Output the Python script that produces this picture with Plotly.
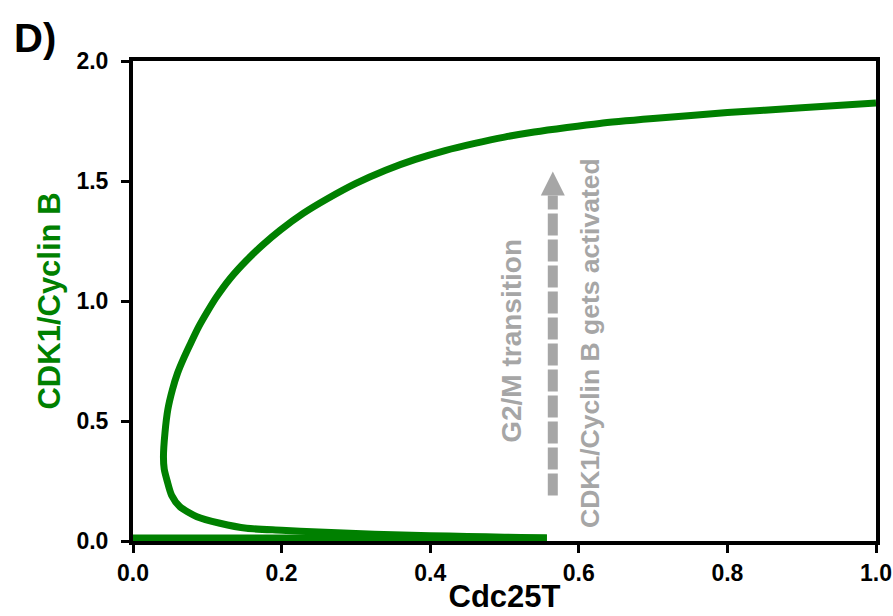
import plotly.graph_objects as go

# Data: steady-state curve of CDK1/Cyclin B vs Cdc25T
# lower (stable, inactive) branch
low_x = [0.0, 0.1, 0.2, 0.3, 0.4, 0.5, 0.557]
low_y = [0.012, 0.012, 0.012, 0.012, 0.012, 0.012, 0.013]
# middle (unstable) + upper (stable, active) branch, from the fold at 0.557
up_x = [0.557, 0.5, 0.45, 0.4, 0.35, 0.3, 0.25, 0.2, 0.153, 0.117, 0.086, 0.063, 0.052,
        0.046, 0.042, 0.041, 0.043, 0.047, 0.053, 0.060, 0.068, 0.077, 0.088, 0.100,
        0.112, 0.131, 0.153, 0.175, 0.198, 0.229, 0.261, 0.30, 0.34, 0.38, 0.42, 0.46,
        0.50, 0.54, 0.584, 0.628, 0.7, 0.8, 0.9, 1.0]
up_y = [0.013, 0.016, 0.019, 0.022, 0.026, 0.031, 0.037, 0.045, 0.053, 0.074, 0.101, 0.143, 0.19,
        0.25, 0.30, 0.35, 0.45, 0.55, 0.63, 0.70, 0.76, 0.82, 0.89, 0.955,
        1.015, 1.095, 1.17, 1.235, 1.295, 1.365, 1.425, 1.49, 1.545, 1.59, 1.627, 1.657,
        1.683, 1.704, 1.723, 1.74, 1.76, 1.785, 1.805, 1.825]

x_ticks = [0.0, 0.2, 0.4, 0.6, 0.8, 1.0]
y_ticks = [0.0, 0.5, 1.0, 1.5, 2.0]

# Annotation arrow (G2/M transition), data coordinates
arrow_x = 0.565
arrow_y_start = 0.19
arrow_y_base = 1.44

green = "#008000"
gray = "#a6a6a6"
font_family = "Arial, Liberation Sans, sans-serif"

fig = go.Figure()
fig.add_trace(go.Scatter(x=low_x, y=low_y, mode="lines",
                         line=dict(color=green, width=7), showlegend=False,
                         hoverinfo="skip"))
fig.add_trace(go.Scatter(x=up_x, y=up_y, mode="lines",
                         line=dict(color=green, width=7, shape="spline", smoothing=0.7),
                         showlegend=False, hoverinfo="skip"))

# dashed shaft
fig.add_shape(type="line", x0=arrow_x, x1=arrow_x, y0=arrow_y_start, y1=arrow_y_base,
              xref="x", yref="y", line=dict(color=gray, width=10, dash="22px,4px"))
# arrow head
fig.add_shape(type="path", xref="x", yref="y", xsizemode="pixel", ysizemode="pixel",
              xanchor=arrow_x, yanchor=arrow_y_base,
              path="M -12,0 L 12,0 L 0,24 Z", fillcolor=gray, line=dict(width=0))

fig.add_annotation(x=0.509, y=0.835, xref="x", yref="y", text="G2/M transition",
                   textangle=-90, showarrow=False,
                   font=dict(family=font_family, size=28, color=gray, weight="bold"))
fig.add_annotation(x=0.615, y=0.825, xref="x", yref="y",
                   text="CDK1/Cyclin B gets activated",
                   textangle=-90, showarrow=False,
                   font=dict(family=font_family, size=26.5, color=gray, weight="bold"))
fig.add_annotation(x=-0.132, y=1.048, xref="paper", yref="paper", text="D)",
                   showarrow=False, xanchor="center", yanchor="middle",
                   font=dict(family=font_family, size=40, color="black", weight="bold"))

axis_common = dict(showline=True, linecolor="black", linewidth=4, mirror=True,
                   ticks="outside", ticklen=8, tickwidth=3, tickcolor="black",
                   showgrid=False, zeroline=False, tickformat=".1f",
                   layer="below traces", automargin=False,
                   tickfont=dict(family=font_family, size=23, color="black", weight="bold"))

fig.update_layout(
    width=893, height=616,
    margin=dict(l=133, r=17, t=61, b=75),
    paper_bgcolor="white", plot_bgcolor="white",
    xaxis=dict(range=[0, 1.0], tickvals=x_ticks, ticklabelstandoff=0,
               title=dict(text="Cdc25T", standoff=2,
                          font=dict(family=font_family, size=31, color="black", weight="bold")),
               **axis_common),
    yaxis=dict(range=[0, 2.0], tickvals=y_ticks, ticklabelstandoff=8,
               title=dict(text="CDK1/Cyclin B", standoff=8,
                          font=dict(family=font_family, size=31, color=green, weight="bold")),
               **axis_common),
)

# remove the page's default body margin so the figure fills the window exactly
fig.write_html("out.html", config={"displayModeBar": False},
               post_script="document.body.style.margin='0';document.body.style.overflow='hidden';")
